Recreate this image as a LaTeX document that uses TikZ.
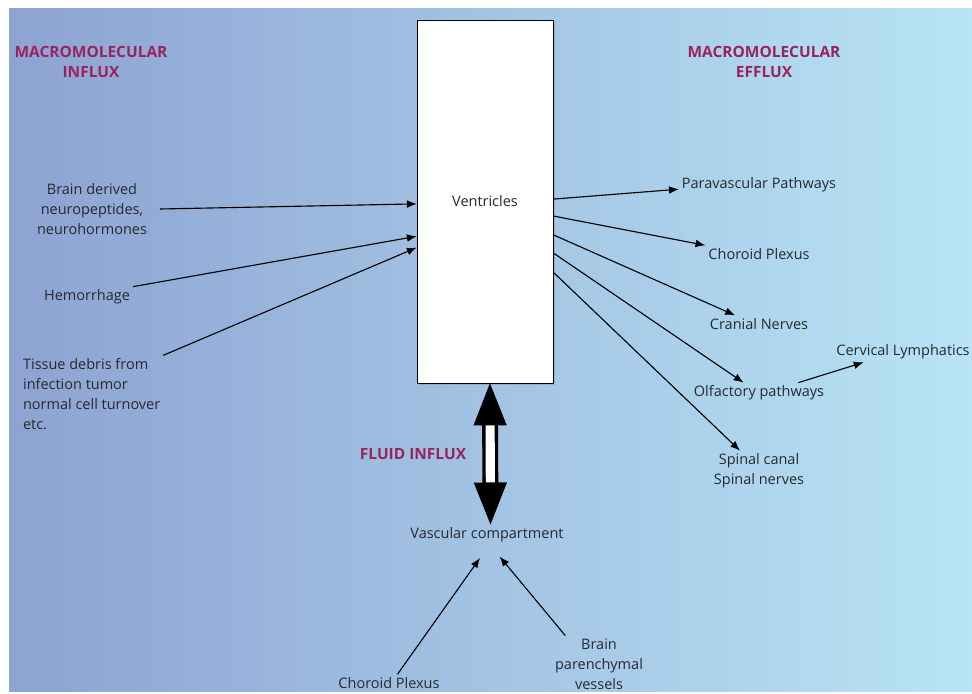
\documentclass[tikz,border=0pt]{standalone}
\usepackage{fontspec}
\setmainfont{Open Sans}
\usetikzlibrary{shadows}
\usetikzlibrary{arrows.meta,calc}
\definecolor{bgleft}{RGB}{141,163,210}
\definecolor{bgright}{RGB}{184,228,245}
\definecolor{titlered}{RGB}{155,35,92}
\definecolor{textgray}{RGB}{40,40,48}
\tikzstyle{box}=[rectangle,draw=black,fill=white,thin,minimum width=96.7pt,minimum height=258pt,drop shadow={opacity=0.35,shadow xshift=1.5pt,shadow yshift=-1.5pt}]
\tikzstyle{label}=[align=center,text=textgray,font=\fontsize{10.3}{14.2}\selectfont,inner sep=2pt]
\tikzstyle{title}=[align=center,text=titlered,font=\bfseries\fontsize{11}{14.2}\selectfont,inner sep=0pt]
\tikzstyle{edge} = [draw,line width=0.8pt,-{Latex[length=7pt,width=5.5pt]}]
\tikzstyle{fluid} = [draw,line width=2.4pt,double=white,double distance=6.5pt,{Triangle[width=23pt,length=30pt]}-{Triangle[width=23pt,length=30pt]}]

\begin{document}
\begin{tikzpicture}[x=0.025cm,y=-0.025cm]

% background
\useasboundingbox (0,0) rectangle (972,694);
\shade[left color=bgleft,right color=bgright] (9,9) rectangle (972,691);

% ventricles
\node[box] (vent) at (485,201.5) {};
\node[label] at (485,201) {Ventricles};

% titles
\foreach \pos/\name/\label in {{(91,62)/tin/MACROMOLECULAR\\INFLUX}, {(764,62)/tef/MACROMOLECULAR\\EFFLUX}, {(413,454)/tfl/FLUID INFLUX}}
    \node[title] (\name) at \pos {\label};

% influx side
\node[label] (brain) at (92,209) {Brain derived\\neuropeptides,\\neurohormones};
\node[label] (hem) at (87,297) {Hemorrhage};
\node[label,align=left,anchor=west] (tis) at (20,394) {Tissue debris from\\infection tumor\\normal cell turnover\\etc.};

% efflux side
\foreach \pos/\name/\label in {{(759,185)/para/Paravascular Pathways}, {(759,254)/chor/Choroid Plexus}, {(759,324)/cran/Cranial Nerves}, {(759,393)/olf/Olfactory pathways}, {(759,471)/spin/Spinal canal\\Spinal nerves}, {(903,352)/cerv/Cervical Lymphatics}}
    \node[label] (\name) at \pos {\label};

% vascular side
\node[label] (vasc) at (487,535) {Vascular compartment};
\node[label] (chorb) at (389,683) {Choroid Plexus};
\node[label] (par) at (599,664) {Brain\\parenchymal\\vessels};

% arrow ends
\coordinate (brainout) at ([xshift=7pt]brain.east);
\coordinate (paraend) at ([yshift=-3pt]para.west);
\coordinate (cranend) at ([xshift=-17pt]cran.north);
\coordinate (olfend) at ([xshift=-11pt]olf.north);
\coordinate (spinend) at ([xshift=-13.5pt]spin.north);
\coordinate (olfout) at ([xshift=28pt]olf.north);
\coordinate (cervend) at ([xshift=-28pt]cerv.south);
\coordinate (chorbout) at ([xshift=6pt]chorb.north);
\coordinate (parout) at ([xshift=-24pt]par.north);
\coordinate (vascleft) at ([shift={(-5pt,-9pt)}]vasc.south);
\coordinate (vascright) at ([shift={(9pt,-8pt)}]vasc.south);

% arrows
\foreach \source/ \dest in {brainout/vent.182.1, hem.north east/vent.207.6, tis.north east/vent.214.4, vent.2.9/paraend, vent.348.8/chor.north west, vent.334.5/cranend, vent.323.9/olfend, vent.314.8/spinend, olfout/cervend, chorbout/vascleft, parout/vascright}
    \path[edge] (\source) -- (\dest);

\path[fluid] ([xshift=3.5pt]vent.south) -- ([xshift=2.5pt]vasc.north);

\end{tikzpicture}
\end{document}
